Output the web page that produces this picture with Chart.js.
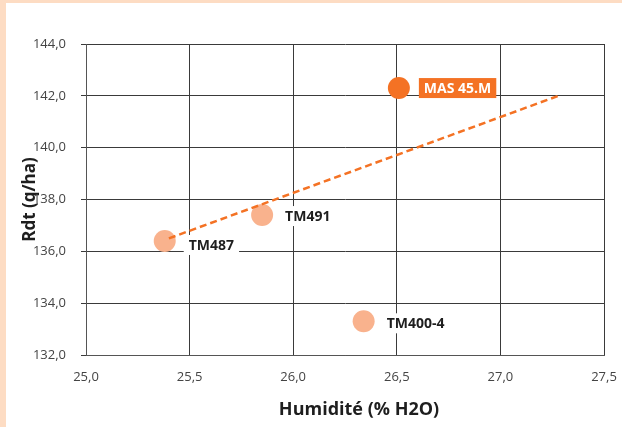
<!DOCTYPE html>
<html lang="fr">
<head>
    <meta charset="UTF-8">
    <title>Rdt vs Humidité</title>
    <style>
        html, body {
            margin: 0;
            padding: 0;
            background: #ffffff;
        }
        .frame {
            width: 616px;
            height: 424px;
            border-left: 6px solid #fddcc3;
            border-top: 3px solid #fddcc3;
            background: #ffffff;
        }
        canvas {
            display: block;
        }
    </style>
    <script src="https://cdn.jsdelivr.net/npm/chart.js"></script>
</head>
<body>
    <div class="frame">
        <canvas id="scatterChart" width="616" height="424"></canvas>
    </div>

    <script>
        // varieties, humidity (% H2O) and yield (q/ha)
        const varieties = ['MAS 45.M', 'TM491', 'TM487', 'TM400-4'];
        const humidity = [26.51, 25.85, 25.38, 26.34];
        const yieldQha = [142.3, 137.4, 136.4, 133.3];

        // dashed trend line end points
        const trendX = [25.40, 27.28];
        const trendY = [136.5, 142.0];

        const xTicks = [25.0, 25.5, 26.0, 26.5, 27.0, 27.5];
        const yTicks = [132, 134, 136, 138, 140, 142, 144];

        const xTitle = 'Humidité (% H2O)';

        const ORANGE = '#f47224';
        const PEACH = '#f9b28d';

        function fmt(v) {
            return Number(v).toFixed(1).replace('.', ',');
        }

        // label next to each point: white box with dark text, highlighted one in orange
        const pointLabels = {
            id: 'pointLabels',
            afterDatasetsDraw(chart) {
                const ctx = chart.ctx;
                const meta = chart.getDatasetMeta(1);
                const dx = [20, 18, 19, 18];
                const dy = [0, 1, 4, 2];
                ctx.save();
                ctx.font = 'bold 14px "Open Sans", sans-serif';
                ctx.textBaseline = 'middle';
                meta.data.forEach(function(pt, i) {
                    const text = varieties[i];
                    const w = ctx.measureText(text).width;
                    const x = pt.x + dx[i];
                    const y = pt.y + dy[i];
                    const hl = i === 0;
                    ctx.fillStyle = hl ? ORANGE : '#ffffff';
                    ctx.fillRect(x, y - 10, w + 10, 20);
                    ctx.fillStyle = hl ? '#ffffff' : '#1e1e1e';
                    ctx.fillText(text, x + 5, y + 1);
                });
                ctx.restore();
            }
        };

        // x axis title, sits a little right of the plot centre as in the original
        const xAxisTitle = {
            id: 'xAxisTitle',
            afterDraw(chart) {
                const ctx = chart.ctx;
                const area = chart.chartArea;
                ctx.save();
                ctx.font = 'bold 18px "Open Sans", sans-serif';
                ctx.fillStyle = '#1e1e1e';
                ctx.textAlign = 'center';
                ctx.textBaseline = 'middle';
                ctx.fillText(xTitle, (area.left + area.right) / 2 + 14, area.bottom + 55);
                ctx.restore();
            }
        };

        const ctx = document.getElementById('scatterChart').getContext('2d');
        const chart = new Chart(ctx, {
            type: 'scatter',
            data: {
                datasets: [
                    {
                        label: 'Tendance',
                        data: trendX.map(function(x, i) { return { x: x, y: trendY[i] }; }),
                        showLine: true,
                        borderColor: ORANGE,
                        borderWidth: 2.5,
                        borderDash: [7, 4],
                        pointRadius: 0,
                        fill: false
                    },
                    {
                        label: 'Variétés',
                        data: humidity.map(function(x, i) { return { x: x, y: yieldQha[i] }; }),
                        backgroundColor: varieties.map(function(v, i) { return i === 0 ? ORANGE : PEACH; }),
                        borderWidth: 0,
                        pointRadius: 11,
                        pointHoverRadius: 11
                    }
                ]
            },
            options: {
                responsive: false,
                animation: false,
                layout: {
                    padding: { left: 14, right: 18, top: 41, bottom: 0 }
                },
                plugins: {
                    legend: { display: false },
                    tooltip: { enabled: false }
                },
                scales: {
                    x: {
                        type: 'linear',
                        min: 25,
                        max: 27.5,
                        afterBuildTicks: function(scale) {
                            scale.ticks = xTicks.map(function(v) { return { value: v }; });
                        },
                        afterFit: function(scale) {
                            scale.height = 72;
                            scale.paddingLeft = 0;
                            scale.paddingRight = 0;
                        },
                        grid: { color: '#3a3a3a', lineWidth: 1, drawTicks: false },
                        border: { color: '#555555', width: 1 },
                        ticks: {
                            padding: 14,
                            color: '#444444',
                            font: { family: '"Open Sans", sans-serif', size: 13 },
                            callback: fmt
                        }
                    },
                    y: {
                        min: 132,
                        max: 144,
                        afterBuildTicks: function(scale) {
                            scale.ticks = yTicks.map(function(v) { return { value: v }; });
                        },
                        afterFit: function(scale) { scale.width = 66; },
                        grid: { color: '#3a3a3a', lineWidth: 1, tickLength: 5 },
                        border: { color: '#555555', width: 1 },
                        ticks: {
                            padding: 15,
                            color: '#444444',
                            font: { family: '"Open Sans", sans-serif', size: 13 },
                            callback: fmt
                        },
                        title: {
                            display: true,
                            text: 'Rdt (q/ha)',
                            color: '#1e1e1e',
                            font: { family: '"Open Sans", sans-serif', size: 17, weight: 'bold' },
                            padding: 0
                        }
                    }
                }
            },
            plugins: [pointLabels, xAxisTitle]
        });
    </script>
</body>
</html>
